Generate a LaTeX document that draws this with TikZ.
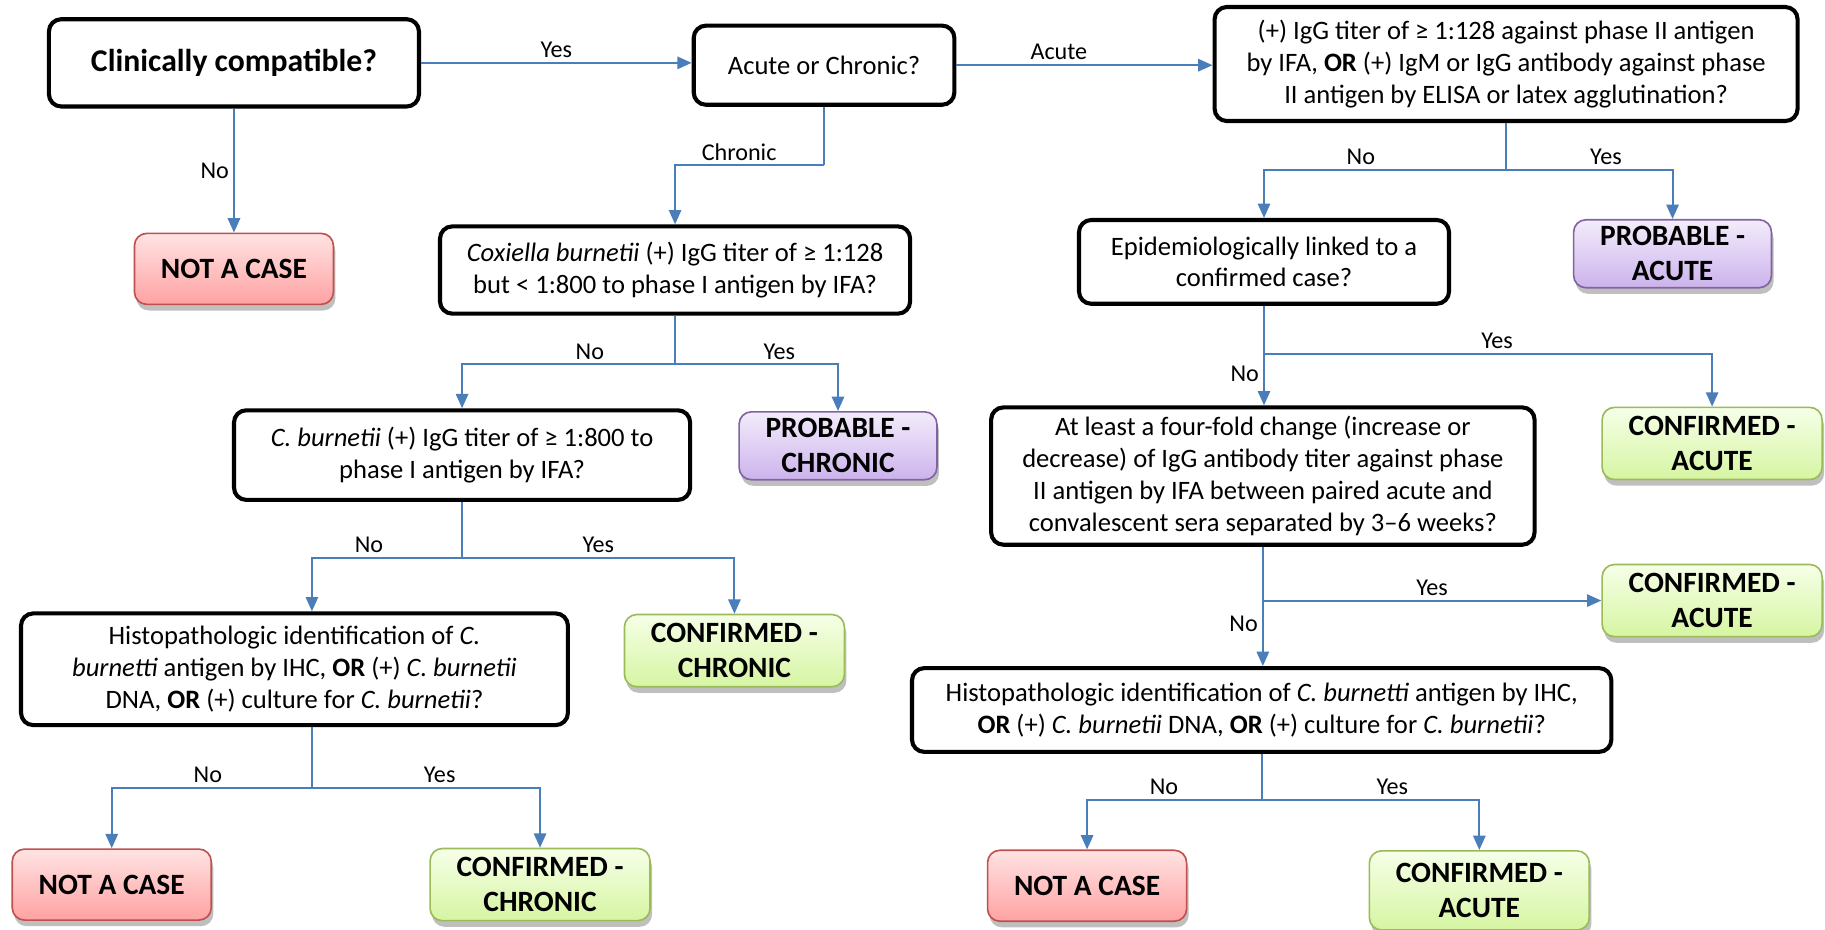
\documentclass[tikz,border=0pt]{standalone}
\usepackage{fontspec}
\setmainfont{Carlito}
\usetikzlibrary{arrows.meta,shadows}
\definecolor{arrblue}{HTML}{4A7EBB}
\definecolor{notred}{HTML}{C0504D}
\definecolor{notredtop}{HTML}{FFE3E3}
\definecolor{notredbot}{HTML}{FFA2A2}
\definecolor{congreen}{HTML}{9BBB59}
\definecolor{congreentop}{HTML}{F6FFE8}
\definecolor{congreenbot}{HTML}{D6F5A2}
\definecolor{propurple}{HTML}{8064A2}
\definecolor{propurpletop}{HTML}{F3ECFB}
\definecolor{propurplebot}{HTML}{CCB3EC}

\begin{document}
\begin{tikzpicture}[x=0.02cm, y=-0.02cm,
    qbox/.style={draw=black, line width=2pt, rounded corners=6pt, align=center,
      inner sep=2pt, fill=white, font=\fontsize{13}{15.6}\selectfont},
    endbox/.style={line width=0.8pt, rounded corners=6pt, align=center,
      font=\fontsize{14.4}{17}\selectfont\bfseries,
      drop shadow={shadow xshift=1pt, shadow yshift=-3pt, opacity=0.25, fill=black}},
    nobox/.style={endbox, draw=notred, top color=notredtop, bottom color=notredbot,
      minimum width=3.42cm, minimum height=1.22cm},
    conbox/.style={endbox, draw=congreen, top color=congreentop, bottom color=congreenbot,
      minimum width=3.78cm, minimum height=1.24cm},
    probox/.style={endbox, draw=propurple, top color=propurpletop, bottom color=propurplebot,
      minimum width=3.4cm, minimum height=1.13cm},
    line/.style={draw=arrblue, line width=1pt},
    arr/.style={line, -{Triangle[length=7pt, width=6pt]}},
    lab/.style={font=\fontsize{11.8}{13}\selectfont, inner sep=2pt}]

    \useasboundingbox (0,0) rectangle (1568,799);

    \node[qbox, minimum width=6.36cm, minimum height=1.5cm, font=\fontsize{15.5}{18}\selectfont\bfseries] (a) at (201,54) {Clinically compatible?};
    \node[qbox, minimum width=4.48cm, minimum height=1.36cm] (b) at (708,56) {Acute or Chronic?};
    \node[qbox, minimum width=10.02cm, minimum height=1.96cm] (c) at (1294,55) {(+) IgG titer of ≥ 1:128 against phase II antigen\\ by IFA, \textbf{OR} (+) IgM or IgG antibody against phase\\ II antigen by ELISA or latex agglutination?};
    \node[nobox] (d) at (201,231) {NOT A CASE};
    \node[qbox, minimum width=8.08cm, minimum height=1.5cm] (e) at (580,232) {\textit{Coxiella burnetii} (+) IgG titer of ≥ 1:128\\ but < 1:800 to phase I antigen by IFA?};
    \node[qbox, minimum width=6.36cm, minimum height=1.44cm] (f) at (1086,225) {Epidemiologically linked to a\\ confirmed case?};
    \node[probox] (g) at (1437,218) {PROBABLE -\\ ACUTE};
    \node[qbox, minimum width=7.84cm, minimum height=1.54cm] (h) at (397,391) {\textit{C. burnetii} (+) IgG titer of ≥ 1:800 to\\ phase I antigen by IFA?};
    \node[probox] (i) at (720,383) {PROBABLE -\\ CHRONIC};
    \node[qbox, minimum width=9.34cm, minimum height=2.36cm] (j) at (1085,409) {At least a four-fold change (increase or\\ decrease) of IgG antibody titer against phase\\ II antigen by IFA between paired acute and\\ convalescent sera separated by 3–6 weeks?};
    \node[conbox] (k) at (1471,381) {CONFIRMED -\\ ACUTE};
    \node[qbox, minimum width=9.4cm, minimum height=1.92cm] (l) at (253,575) {Histopathologic identification of \textit{C.}\\ \textit{burnetti} antigen by IHC, \textbf{OR} (+) \textit{C. burnetii}\\ DNA, \textbf{OR} (+) culture for \textit{C. burnetii}?};
    \node[conbox] (m) at (631,559) {CONFIRMED -\\ CHRONIC};
    \node[conbox] (n) at (1471,516) {CONFIRMED -\\ ACUTE};
    \node[qbox, minimum width=12.02cm, minimum height=1.44cm] (o) at (1084,610) {Histopathologic identification of \textit{C. burnetti} antigen by IHC,\\ \textbf{OR} (+) \textit{C. burnetii} DNA, \textbf{OR} (+) culture for \textit{C. burnetii}?};
    \node[nobox] (p) at (96,760) {NOT A CASE};
    \node[conbox] (q) at (464,760) {CONFIRMED -\\ CHRONIC};
    \node[nobox] (r) at (934,761) {NOT A CASE};
    \node[conbox, minimum height=1.36cm] (s) at (1271,765) {CONFIRMED -\\ ACUTE};

    \coordinate (b1) at (708,142);
    \coordinate (c1) at (1294,146);
    \coordinate (e1) at (580,313);
    \coordinate (f1) at (1086,304);
    \coordinate (h1) at (397,479);
    \coordinate (j1) at (1085,516);
    \coordinate (l1) at (268,677);
    \coordinate (o1) at (1084,687);

    \draw [arr] (a.east) to node[lab, above] {Yes} (a.east -| b.west);
    \draw [arr] (a) to node[lab, left] {No} (d);
    \draw [arr] (b.east) to node[lab, above, pos=0.4] {Acute} (b.east -| c.west);
    \draw [line] (b.south) -- (b1);
    \draw [arr] (b1) -| node[lab, above, pos=0.285] {Chronic} (e.north);
    \draw [line] (c.south) -- (c1);
    \draw [arr] (c1) -| node[lab, above, pos=0.3] {No} (f.north);
    \draw [arr] (c1) -| node[lab, above, pos=0.3] {Yes} (g.north);
    \draw [line] (e.south) -- (e1);
    \draw [arr] (e1) -| node[lab, above, pos=0.2] {No} (h.north);
    \draw [arr] (e1) -| node[lab, above, pos=0.32] {Yes} (i.north);
    \draw [arr] (f.south) to node[lab, left, pos=0.68] {No} (f.south |- j.north);
    \draw [arr] (f1) -| node[lab, above, pos=0.26] {Yes} (k.north);
    \draw [line] (h.south) -- (h1);
    \draw [arr] (h1) -| node[lab, above, pos=0.31] {No} (l1 |- l.north);
    \draw [arr] (h1) -| node[lab, above, pos=0.25] {Yes} (m.north);
    \draw [arr] (j.south) to node[lab, left, pos=0.65] {No} (j.south |- o.north);
    \draw [arr] (j1) to node[lab, above, pos=0.5] {Yes} (j1 -| n.west);
    \draw [line] (l.south -| l1) -- (l1);
    \draw [arr] (l1) -| node[lab, above, pos=0.26] {No} (p.north);
    \draw [arr] (l1) -| node[lab, above, pos=0.28] {Yes} (q.north);
    \draw [line] (o.south) -- (o1);
    \draw [arr] (o1) -| node[lab, above, pos=0.28] {No} (r.north);
    \draw [arr] (o1) -| node[lab, above, pos=0.3] {Yes} (s.north);

  \end{tikzpicture}
\end{document}
